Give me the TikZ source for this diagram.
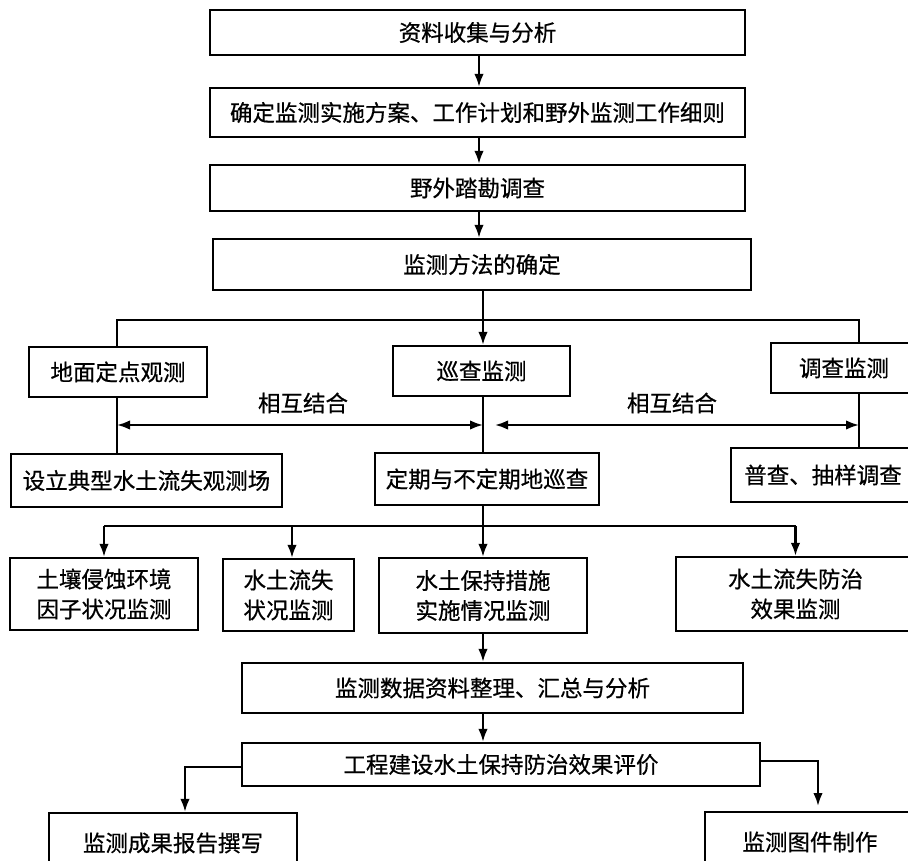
\documentclass[tikz,border=0pt]{standalone}
\usepackage{fontspec}
\setmainfont{Noto Sans CJK SC}[FakeBold=0.6]
\usetikzlibrary{arrows.meta}
\begin{document}
\begin{tikzpicture}[x=1pt,y=-1pt,
  box/.style={draw=black,line width=2.3pt,inner sep=0pt,align=center,
    font=\fontsize{22.5}{30}\selectfont},
  lbl/.style={inner sep=0pt,font=\fontsize{22.5}{30}\selectfont},
  conn/.style={line width=2.2pt},
  arr/.style={line width=2.2pt,-{Latex[length=13pt,width=9.5pt]}},
  darr/.style={line width=2.2pt,{Latex[length=13pt,width=9.5pt]}-{Latex[length=13pt,width=9.5pt]}}]
\useasboundingbox (0,0) rectangle (908,861);
\clip (0,0) rectangle (908,861);
\fill[white] (0,0) rectangle (908,861);
% lanes
\coordinate (ct) at (479,0);
\coordinate (cm) at (483,0);
\coordinate (xl) at (117,0);
\coordinate (xr) at (859,0);
\coordinate (ysplit) at (0,320);
\coordinate (yarr) at (0,425);
\coordinate (yfan) at (0,526);
% top chain
\node[box,minimum width=535,minimum height=45] (b1) at (477.5,32.5) {资料收集与分析};
\node[box,minimum width=535,minimum height=49] (b2) at (477.5,112.5) {确定监测实施方案、工作计划和野外监测工作细则};
\node[box,minimum width=535,minimum height=46] (b3) at (477.5,188) {野外踏勘调查};
\node[box,minimum width=538,minimum height=51] (b4) at (482,264.5) {监测方法的确定};
% methods
\node[box,minimum width=178,minimum height=50] (lb) at (118,372) {地面定点观测};
\node[box,minimum width=177,minimum height=50] (mb) at (481.5,371) {巡查监测};
\node[box,minimum width=146,minimum height=50] (rb) at (844,368) {调查监测};
\node[lbl] (l1) at (303,403) {相互结合};
\node[lbl] (l2) at (672,403) {相互结合};
\node[box,minimum width=271,minimum height=53] (sb1) at (146.5,480.5) {设立典型水土流失观测场};
\node[box,minimum width=224,minimum height=52] (sb2) at (487,479) {定期与不定期地巡查};
\node[box,minimum width=184,minimum height=54] (sb3) at (823,475) {普查、抽样调查};
% contents
\node[box,minimum width=188,minimum height=72] (c1) at (104,594) {土壤侵蚀环境\\因子状况监测};
\node[box,minimum width=131,minimum height=72] (c2) at (288.5,595) {水土流失\\状况监测};
\node[box,minimum width=208,minimum height=75] (c3) at (483,595.5) {水土保持措施\\实施情况监测};
\node[box,minimum width=239,minimum height=74] (c4) at (795.5,594) {水土流失防治\\效果监测};
% results
\node[box,minimum width=501,minimum height=50] (d1) at (492.5,688) {监测数据资料整理、汇总与分析};
\node[box,minimum width=518,minimum height=43] (e1) at (501,764.5) {工程建设水土保持防治效果评价};
\node[box,minimum width=248,minimum height=60] (f1) at (173,843) {监测成果报告撰写};
\node[box,minimum width=210,minimum height=60] (f2) at (810,842) {监测图件制作};
% top arrows
\draw[arr] (b1.south -| ct) -- (b2.north -| ct);
\draw[arr] (b2.south -| ct) -- (b3.north -| ct);
\draw[arr] (b3.south -| ct) -- (b4.north -| ct);
% split
\draw[arr] (b4.south -| cm) -- (mb.north -| cm);
\draw[conn] (lb.north -| xl) -- (xl |- ysplit) -- (xr |- ysplit) -- (rb.north -| xr);
% downward lines
\draw[conn] (lb.south -| xl) -- (sb1.north -| xl);
\draw[conn] (mb.south -| cm) -- (sb2.north -| cm);
\draw[conn] (rb.south -| xr) -- (sb3.north -| xr);
% mutual arrows
\coordinate (m1) at (495,425);
\draw[darr] (xl |- yarr) -- (cm |- yarr);
\draw[darr] (m1) -- (xr |- yarr);
% fan
\draw[conn] (sb2.south -| cm) -- (cm |- yfan);
\draw[conn] (c1.north |- yfan) -- (c4.north |- yfan);
\draw[arr] (c1.north |- yfan) -- (c1.north);
\coordinate (x2) at (292,0);
\draw[arr] (x2 |- yfan) -- (c2.north -| x2);
\draw[arr] (cm |- yfan) -- (c3.north -| cm);
\draw[arr] (c4.north |- yfan) -- (c4.north);
% to results
\draw[arr] (c3.south -| cm) -- (d1.north -| cm);
\draw[arr] (d1.south -| cm) -- (e1.north -| cm);
% final
\coordinate (yl) at (0,767);
\coordinate (yr) at (0,761);
\coordinate (xf1) at (185,0);
\coordinate (xf2) at (818,0);
\draw[arr] (e1.west |- yl) -- (xf1 |- yl) -- (f1.north -| xf1);
\draw[arr] (e1.east |- yr) -- (xf2 |- yr) -- (xf2 |- 0,806);
\end{tikzpicture}
\end{document}
